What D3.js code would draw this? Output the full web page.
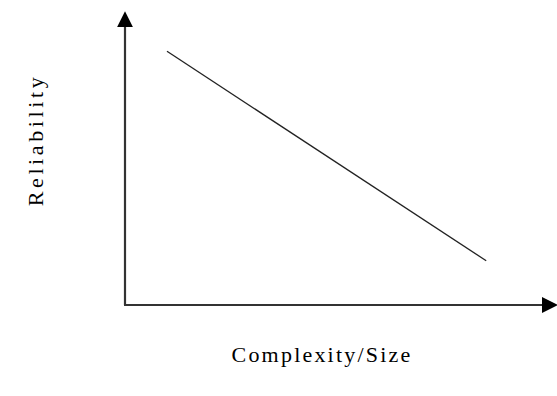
<!DOCTYPE html>
<html>
<head>
<meta charset="utf-8">
<script src="https://cdn.jsdelivr.net/npm/d3@7"></script>
<style>
  body { margin: 0; background: #fff; }
  text { font-family: "Liberation Serif", "Times New Roman", serif; fill: #000; }
</style>
</head>
<body>
<script>
// trend: reliability falls as complexity/size grows
var complexity = [1.0, 8.6];
var reliability = [8.6, 1.5];
var xLabel = "Complexity/Size";
var yLabel = "Reliability";

var width = 557,
    height = 396;

var x = d3.scaleLinear().domain([0, 10]).range([125, 545]);
var y = d3.scaleLinear().domain([0, 10]).range([305, 10]);

var svg = d3.select("body").append("svg")
  .attr("width", width)
  .attr("height", height);

var defs = svg.append("defs");
defs.append("marker")
  .attr("id", "arrow")
  .attr("viewBox", "0 0 10 10")
  .attr("refX", 2)
  .attr("refY", 5)
  .attr("markerUnits", "userSpaceOnUse")
  .attr("markerWidth", 16)
  .attr("markerHeight", 18)
  .attr("orient", "auto")
  .append("path")
  .attr("d", "M0,0 L10,5 L0,10 Z")
  .attr("fill", "#000");

// axes
svg.append("line")
  .attr("x1", x(0)).attr("y1", y(0))
  .attr("x2", x(0)).attr("y2", y(10) + 14)
  .attr("stroke", "#333").attr("stroke-width", 2.2)
  .attr("marker-end", "url(#arrow)");

svg.append("line")
  .attr("x1", x(0) - 1).attr("y1", y(0))
  .attr("x2", x(10)).attr("y2", y(0))
  .attr("stroke", "#333").attr("stroke-width", 2.2)
  .attr("marker-end", "url(#arrow)");

var line = d3.line()
  .x(function(d) { return x(d[0]); })
  .y(function(d) { return y(d[1]); });

svg.append("path")
  .datum(d3.zip(complexity, reliability))
  .attr("d", line)
  .attr("fill", "none")
  .attr("stroke", "#222")
  .attr("stroke-width", 1.3);

svg.append("text")
  .attr("x", 322)
  .attr("y", 362)
  .attr("text-anchor", "middle")
  .style("font-size", "22px")
  .style("letter-spacing", "2.2px")
  .text(xLabel);

svg.append("text")
  .attr("transform", "translate(43,140) rotate(-90)")
  .attr("text-anchor", "middle")
  .style("font-size", "22px")
  .style("letter-spacing", "3.6px")
  .text(yLabel);
</script>
</body>
</html>
